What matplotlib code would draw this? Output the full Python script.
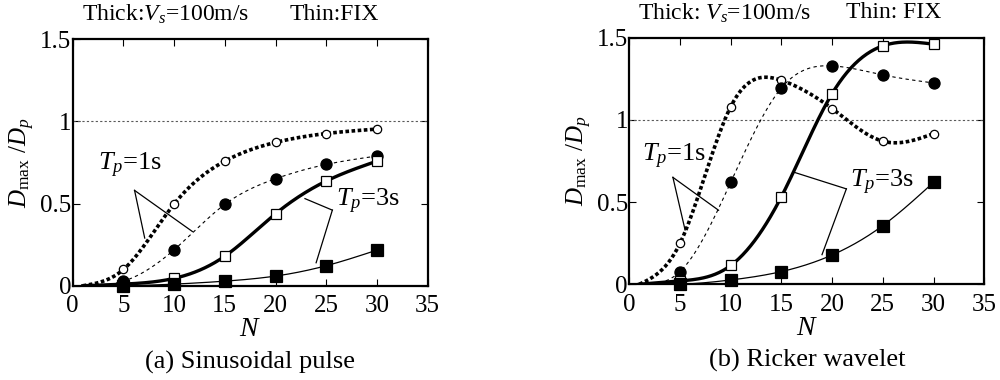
import matplotlib.pyplot as plt
import numpy as np

# common N values where markers sit
N = [5, 10, 15, 20, 25, 30]
# curves start from this point
N_START = 1
V_START = 0.0

# (a) Sinusoidal pulse
sin_vs_1s = [0.099, 0.497, 0.758, 0.872, 0.926, 0.953]
sin_fix_1s = [0.028, 0.219, 0.495, 0.651, 0.738, 0.789]
sin_vs_3s = [0.010, 0.045, 0.180, 0.438, 0.637, 0.758]
sin_fix_3s = [0.000, 0.010, 0.028, 0.059, 0.122, 0.217]

# (b) Ricker wavelet
ric_vs_1s = [0.249, 1.080, 1.240, 1.068, 0.870, 0.916]
ric_fix_1s = [0.077, 0.620, 1.194, 1.328, 1.273, 1.224]
ric_vs_3s = [0.020, 0.114, 0.533, 1.160, 1.450, 1.460]
ric_fix_3s = [0.000, 0.026, 0.077, 0.178, 0.357, 0.620]

x_ticks = [0, 5, 10, 15, 20, 25, 30, 35]
y_ticks = [0, 0.5, 1, 1.5]
y_tick_labels = ["0", "0.5", "1", "1.5"]

plt.rcParams['font.family'] = ['Liberation Serif', 'DejaVu Serif']
plt.rcParams['mathtext.fontset'] = 'custom'
plt.rcParams['mathtext.rm'] = 'Liberation Serif'
plt.rcParams['mathtext.it'] = 'Liberation Serif:italic'


def natural_spline(x, y, num=300):
    """natural cubic spline, only used to draw the smooth curve"""
    x = np.asarray(x, float)
    y = np.asarray(y, float)
    n = len(x)
    h = np.diff(x)
    A = np.zeros((n, n))
    b = np.zeros(n)
    A[0, 0] = 1
    A[-1, -1] = 1
    for i in range(1, n - 1):
        A[i, i - 1] = h[i - 1]
        A[i, i] = 2 * (h[i - 1] + h[i])
        A[i, i + 1] = h[i]
        b[i] = 6 * ((y[i + 1] - y[i]) / h[i] - (y[i] - y[i - 1]) / h[i - 1])
    M = np.linalg.solve(A, b)
    xs = np.linspace(x[0], x[-1], num)
    k = np.clip(np.searchsorted(x, xs) - 1, 0, n - 2)
    t0 = xs - x[k]
    t1 = x[k + 1] - xs
    hk = h[k]
    ys = (M[k] * t1 ** 3 + M[k + 1] * t0 ** 3) / (6 * hk) \
        + (y[k] / hk - M[k] * hk / 6) * t1 \
        + (y[k + 1] / hk - M[k + 1] * hk / 6) * t0
    return xs, np.clip(ys, 0, None)


def draw_series(ax, vals, ls, lw, marker, ms, filled):
    xs, ys = natural_spline([N_START] + N, [V_START] + vals)
    ax.plot(xs, ys, color='k', linestyle=ls, linewidth=lw)
    ax.plot(N, vals, linestyle='none', marker=marker, markersize=ms,
            markerfacecolor='k' if filled else 'white',
            markeredgecolor='k', markeredgewidth=0.9, clip_on=False, zorder=5)


def leader(ax, origin, ends):
    for e in ends:
        ax.plot([origin[0], e[0]], [origin[1], e[1]], color='k', linewidth=0.9)


def show_panel(ax, vs1, fix1, vs3, fix3, lab1, lab3, caption, colon):
    ax.axhline(1.0, color='0.35', linestyle=(0, (2, 2)), linewidth=0.8)
    draw_series(ax, vs1, (0, (1.0, 0.7)), 2.6, 'o', 6, False)
    draw_series(ax, fix1, (0, (3, 3)), 0.8, 'o', 8, True)
    draw_series(ax, vs3, '-', 2.4, 's', 6.5, False)
    draw_series(ax, fix3, '-', 0.9, 's', 8.5, True)

    # Tp labels with leader lines
    ax.text(lab1['text'][0], lab1['text'][1], r'$T_p$=1s', fontsize=19,
            ha='left', va='center')
    leader(ax, lab1['origin'], lab1['ends'])
    ax.text(lab3['text'][0], lab3['text'][1], r'$T_p$=3s', fontsize=19,
            ha='left', va='center')
    leader(ax, lab3['origin'], lab3['ends'])

    ax.set_xlim(0, 35)
    ax.set_ylim(0, 1.5)
    ax.set_xticks(x_ticks)
    ax.set_yticks(y_ticks)
    ax.set_yticklabels(y_tick_labels)
    ax.tick_params(direction='in', top=True, right=True, length=5, width=0.8,
                   labelsize=18)
    ax.tick_params(axis='x', pad=7)
    ax.tick_params(axis='y', pad=1)
    for s in ax.spines.values():
        s.set_linewidth(1.6)
    ax.set_xlabel(r'$N$', fontsize=20, labelpad=0)
    ax.set_ylabel(r'$D_{\mathrm{max}}$ /$D_p$', fontsize=18, labelpad=2)

    ax.text(0.025, 1.1, 'Thick' + colon + r'$V_s$=100m/s', fontsize=17,
            transform=ax.transAxes, ha='left', va='center')
    ax.text(0.61, 1.1, 'Thin' + colon + 'FIX', fontsize=17,
            transform=ax.transAxes, ha='left', va='center')
    ax.text(0.5, -0.31, caption, fontsize=19, transform=ax.transAxes,
            ha='center', va='center')


def main():
    fig = plt.figure(figsize=(10, 3.8), dpi=100)
    ax1 = fig.add_axes([0.0727, 0.248, 0.355, 0.649])
    ax2 = fig.add_axes([0.6293, 0.252, 0.355, 0.649])

    show_panel(ax1, sin_vs_1s, sin_fix_1s, sin_vs_3s, sin_fix_3s,
               {'text': (2.5, 0.73), 'origin': (6.1, 0.58),
                'ends': [(7.1, 0.29), (11.8, 0.33)]},
               {'text': (26.0, 0.51), 'origin': (25.6, 0.46),
                'ends': [(22.9, 0.53), (24.0, 0.14)]},
               '(a) Sinusoidal pulse', ':')
    show_panel(ax2, ric_vs_1s, ric_fix_1s, ric_vs_3s, ric_fix_3s,
               {'text': (1.3, 0.78), 'origin': (4.3, 0.65),
                'ends': [(5.5, 0.33), (8.8, 0.45)]},
               {'text': (21.8, 0.62), 'origin': (21.4, 0.58),
                'ends': [(16.3, 0.68), (19.0, 0.18)]},
               '(b) Ricker wavelet', ': ')

    fig.savefig('out.png', dpi=100)


if __name__ == '__main__':
    main()
